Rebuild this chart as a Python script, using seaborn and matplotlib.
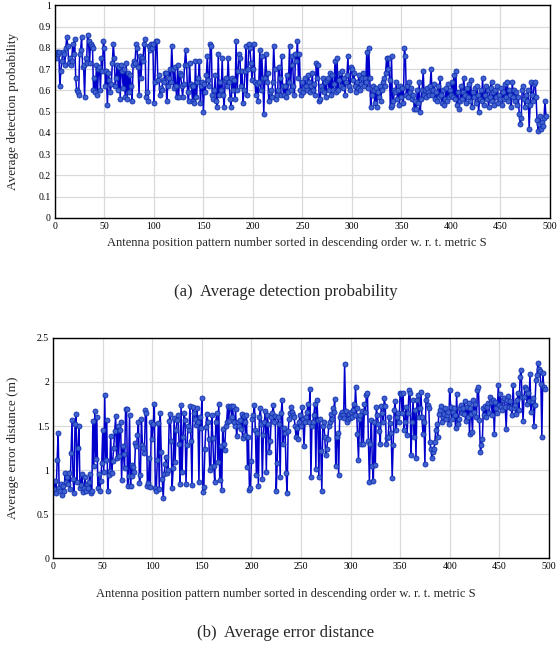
import numpy as np
import pandas as pd
import matplotlib
matplotlib.use("Agg")
import matplotlib.pyplot as plt
import seaborn as sns

# Average detection probability, patterns sorted by metric S
det_prob = [
    0.75, 0.78, 0.77, 0.78, 0.62, 0.69, 0.74, 0.78, 0.77, 0.72,
    0.80, 0.85, 0.81, 0.73, 0.75, 0.72, 0.74, 0.82, 0.77, 0.84,
    0.66, 0.60, 0.59, 0.58, 0.77, 0.79, 0.85, 0.71, 0.72, 0.57,
    0.75, 0.73, 0.86, 0.83, 0.73, 0.82, 0.81, 0.80, 0.60, 0.66,
    0.59, 0.72, 0.58, 0.70, 0.71, 0.60, 0.75, 0.69, 0.83, 0.80,
    0.62, 0.69, 0.53, 0.68, 0.65, 0.59, 0.63, 0.73, 0.82, 0.75,
    0.62, 0.66, 0.72, 0.60, 0.71, 0.56, 0.72, 0.69, 0.61, 0.70,
    0.57, 0.73, 0.56, 0.68, 0.59, 0.67, 0.62, 0.55, 0.72, 0.74,
    0.73, 0.82, 0.80, 0.71, 0.58, 0.76, 0.66, 0.75, 0.74, 0.82,
    0.84, 0.57, 0.59, 0.55, 0.81, 0.79, 0.82, 0.80, 0.82, 0.54,
    0.64, 0.83, 0.83, 0.65, 0.67, 0.58, 0.61, 0.60, 0.65, 0.64,
    0.68, 0.68, 0.55, 0.62, 0.66, 0.70, 0.64, 0.81, 0.70, 0.61,
    0.71, 0.62, 0.57, 0.72, 0.57, 0.68, 0.67, 0.62, 0.57, 0.63,
    0.72, 0.79, 0.72, 0.59, 0.55, 0.73, 0.63, 0.62, 0.55, 0.62,
    0.54, 0.74, 0.57, 0.64, 0.66, 0.74, 0.54, 0.62, 0.64, 0.50,
    0.63, 0.59, 0.67, 0.76, 0.65, 0.62, 0.82, 0.81, 0.58, 0.56,
    0.60, 0.67, 0.55, 0.52, 0.77, 0.58, 0.64, 0.60, 0.75, 0.58,
    0.52, 0.65, 0.66, 0.62, 0.75, 0.64, 0.56, 0.52, 0.66, 0.60,
    0.65, 0.56, 0.83, 0.60, 0.69, 0.77, 0.75, 0.62, 0.69, 0.54,
    0.60, 0.69, 0.81, 0.58, 0.70, 0.82, 0.80, 0.73, 0.65, 0.70,
    0.82, 0.64, 0.58, 0.63, 0.55, 0.64, 0.79, 0.60, 0.76, 0.66,
    0.49, 0.66, 0.77, 0.64, 0.68, 0.55, 0.59, 0.60, 0.57, 0.64,
    0.81, 0.70, 0.56, 0.58, 0.60, 0.71, 0.66, 0.58, 0.76, 0.62,
    0.58, 0.62, 0.57, 0.67, 0.59, 0.64, 0.81, 0.60, 0.72, 0.76,
    0.62, 0.58, 0.77, 0.74, 0.83, 0.66, 0.77, 0.60, 0.58, 0.64,
    0.59, 0.61, 0.66, 0.62, 0.60, 0.67, 0.64, 0.59, 0.62, 0.68,
    0.60, 0.63, 0.58, 0.73, 0.66, 0.72, 0.55, 0.56, 0.62, 0.60,
    0.66, 0.59, 0.64, 0.57, 0.65, 0.66, 0.60, 0.68, 0.58, 0.67,
    0.60, 0.63, 0.74, 0.59, 0.75, 0.60, 0.65, 0.68, 0.62, 0.69,
    0.61, 0.66, 0.58, 0.64, 0.67, 0.76, 0.62, 0.60, 0.71, 0.70,
    0.65, 0.68, 0.62, 0.59, 0.64, 0.61, 0.67, 0.60, 0.63, 0.66,
    0.68, 0.62, 0.66, 0.64, 0.78, 0.61, 0.80, 0.66, 0.52, 0.58,
    0.62, 0.60, 0.54, 0.61, 0.52, 0.59, 0.57, 0.62, 0.55, 0.60,
    0.64, 0.66, 0.62, 0.68, 0.75, 0.70, 0.75, 0.65, 0.52, 0.76,
    0.53, 0.55, 0.60, 0.59, 0.64, 0.56, 0.60, 0.53, 0.62, 0.57,
    0.61, 0.54, 0.80, 0.76, 0.58, 0.62, 0.57, 0.64, 0.59, 0.61,
    0.56, 0.58, 0.51, 0.55, 0.51, 0.60, 0.54, 0.64, 0.50, 0.56,
    0.60, 0.69, 0.58, 0.60, 0.57, 0.61, 0.59, 0.58, 0.62, 0.70,
    0.58, 0.60, 0.63, 0.56, 0.59, 0.55, 0.62, 0.57, 0.66, 0.58,
    0.54, 0.60, 0.53, 0.56, 0.61, 0.55, 0.63, 0.57, 0.60, 0.58,
    0.64, 0.57, 0.67, 0.56, 0.69, 0.53, 0.59, 0.51, 0.55, 0.62,
    0.56, 0.59, 0.66, 0.58, 0.54, 0.61, 0.57, 0.63, 0.55, 0.65,
    0.52, 0.59, 0.57, 0.61, 0.54, 0.62, 0.58, 0.50, 0.56, 0.60,
    0.55, 0.66, 0.53, 0.58, 0.62, 0.56, 0.60, 0.52, 0.57, 0.61,
    0.64, 0.55, 0.59, 0.53, 0.60, 0.57, 0.62, 0.54, 0.58, 0.56,
    0.61, 0.53, 0.59, 0.56, 0.63, 0.57, 0.64, 0.55, 0.60, 0.58,
    0.52, 0.64, 0.57, 0.60, 0.55, 0.59, 0.53, 0.57, 0.49, 0.44,
    0.47, 0.60, 0.62, 0.56, 0.52, 0.58, 0.55, 0.60, 0.42, 0.53,
    0.64, 0.58, 0.55, 0.63, 0.64, 0.57, 0.46, 0.41, 0.44, 0.48,
    0.42, 0.45, 0.43, 0.47, 0.55, 0.48,
]

# Average error distance (m)
err_dist = [
    0.78, 0.88, 0.74, 1.12, 1.42, 0.80, 0.76, 0.84, 0.72, 0.82,
    0.76, 0.97, 0.86, 0.92, 0.84, 0.97, 0.78, 1.19, 1.57, 0.90,
    0.74, 1.52, 1.64, 0.86, 1.25, 1.50, 0.80, 0.83, 0.96, 0.75,
    0.80, 0.92, 0.76, 0.84, 0.80, 0.86, 0.96, 0.74, 0.76, 1.56,
    1.05, 1.67, 1.13, 1.60, 0.80, 0.95, 0.76, 0.88, 1.08, 1.46,
    0.98, 1.85, 1.12, 1.57, 0.76, 0.94, 0.99, 1.39, 0.97, 1.10,
    1.25, 1.44, 1.61, 1.14, 1.50, 1.16, 1.46, 1.55, 0.89, 1.27,
    1.18, 1.02, 1.69, 1.69, 0.82, 0.93, 1.63, 0.82, 1.06, 0.93,
    1.04, 0.98, 1.31, 1.27, 1.40, 1.55, 0.85, 0.94, 1.58, 1.29,
    1.25, 1.19, 1.68, 1.65, 0.82, 0.85, 1.14, 0.81, 1.55, 1.35,
    1.52, 1.75, 0.80, 0.76, 1.11, 1.53, 0.78, 1.65, 1.20, 0.90,
    0.68, 0.96, 1.07, 1.15, 0.97, 1.00, 1.56, 1.64, 1.33, 0.80,
    1.02, 1.59, 1.09, 1.45, 1.57, 1.62, 1.30, 0.84, 1.74, 0.98,
    1.38, 1.65, 1.57, 0.84, 1.29, 1.50, 1.45, 1.73, 1.33, 0.83,
    1.71, 1.65, 1.58, 1.51, 1.70, 1.55, 0.86, 1.60, 1.48, 1.82,
    0.75, 0.81, 1.24, 1.49, 1.64, 1.55, 1.35, 1.00, 1.03, 1.62,
    1.36, 1.05, 0.86, 1.55, 1.65, 1.09, 1.75, 0.89, 1.27, 0.77,
    1.47, 1.30, 1.23, 1.50, 1.55, 1.73, 1.56, 1.71, 1.73, 1.60,
    1.73, 1.55, 1.50, 1.69, 1.39, 1.55, 1.50, 1.57, 1.47, 1.64,
    1.36, 1.61, 1.55, 1.40, 1.62, 1.03, 1.38, 0.77, 0.80, 1.10,
    1.58, 1.62, 1.74, 1.45, 0.94, 1.42, 0.82, 1.60, 1.70, 1.52,
    0.90, 1.40, 1.55, 1.67, 0.98, 1.62, 1.52, 1.20, 1.33, 1.60,
    1.65, 1.74, 1.55, 1.61, 0.76, 1.08, 1.60, 1.52, 0.92, 1.65,
    1.80, 1.30, 1.48, 1.42, 0.97, 0.74, 1.44, 1.58, 1.65, 1.71,
    1.66, 1.63, 1.60, 1.50, 1.37, 1.48, 1.35, 1.55, 1.62, 1.50,
    1.71, 1.58, 1.27, 1.55, 1.60, 1.66, 1.75, 1.55, 1.92, 0.92,
    1.50, 1.55, 1.63, 1.75, 1.01, 1.80, 1.57, 0.92, 1.58, 1.22,
    0.76, 1.50, 1.55, 1.37, 1.17, 1.24, 1.35, 1.50, 1.55, 1.64,
    1.58, 1.70, 1.66, 1.81, 1.05, 1.37, 1.42, 0.94, 1.60, 1.64,
    1.66, 1.62, 1.59, 2.20, 1.67, 1.55, 1.58, 1.64, 1.59, 1.66,
    1.60, 1.68, 1.75, 1.62, 1.94, 1.70, 1.41, 1.11, 1.58, 1.62,
    1.30, 1.67, 1.30, 1.75, 1.66, 1.85, 1.88, 1.33, 0.87, 1.30,
    1.57, 1.05, 0.88, 1.55, 1.06, 1.71, 1.62, 1.52, 1.44, 1.30,
    1.73, 1.65, 1.55, 1.82, 1.73, 1.30, 1.36, 1.38, 1.60, 1.53,
    1.42, 0.91, 1.28, 1.68, 1.78, 1.45, 1.60, 1.65, 1.55, 1.88,
    1.86, 1.65, 1.88, 1.45, 1.55, 1.72, 1.40, 1.65, 1.91, 1.88,
    1.17, 1.55, 1.80, 1.38, 1.68, 1.14, 1.79, 1.85, 1.60, 1.70,
    1.89, 1.60, 1.41, 1.55, 1.07, 1.79, 1.85, 1.74, 1.70, 1.32,
    1.24, 1.14, 1.20, 1.24, 1.32, 1.46, 1.52, 1.37, 1.64, 1.68,
    1.73, 1.54, 1.60, 1.64, 1.70, 1.58, 1.62, 1.66, 1.52, 1.91,
    1.72, 1.58, 1.66, 1.70, 1.63, 1.48, 1.86, 1.52, 1.58, 1.70,
    1.74, 1.65, 1.70, 1.64, 1.78, 1.56, 1.72, 1.60, 1.76, 1.41,
    1.70, 1.64, 1.43, 1.80, 1.66, 1.75, 1.60, 1.91, 1.94, 1.57,
    1.20, 1.28, 1.35, 1.70, 1.62, 1.73, 1.60, 1.72, 1.76, 1.65,
    1.83, 1.77, 1.62, 1.80, 1.41, 1.77, 1.70, 1.65, 1.96, 1.74,
    1.86, 1.72, 1.68, 1.79, 1.82, 1.72, 1.47, 1.80, 1.84, 1.72,
    1.78, 1.70, 1.62, 1.96, 1.70, 1.74, 1.64, 1.80, 1.87, 1.68,
    2.06, 2.14, 1.83, 1.56, 1.83, 1.94, 1.92, 1.75, 1.88, 1.78,
    2.09, 1.66, 1.78, 1.82, 1.50, 1.74, 2.02, 2.08, 2.21, 2.15,
    2.12, 1.98, 1.38, 2.10, 1.94, 1.92,
]

x_ticks = [0, 50, 100, 150, 200, 250, 300, 350, 400, 450, 500]
y_ticks_a = [0, 0.1, 0.2, 0.3, 0.4, 0.5, 0.6, 0.7, 0.8, 0.9, 1]
y_labels_a = ["0", "0.1", "0.2", "0.3", "0.4", "0.5", "0.6", "0.7", "0.8", "0.9", "1"]
y_ticks_b = [0, 0.5, 1, 1.5, 2, 2.5]
y_labels_b = ["0", "0.5", "1", "1.5", "2", "2.5"]

xlabel = "Antenna position pattern number sorted in descending order w. r. t. metric S"
ylabel_a = "Average detection probability"
ylabel_b = "Average error distance (m)"
caption_a = "(a)  Average detection probability"
caption_b = "(b)  Average error distance"

df_a = pd.DataFrame({"pattern": np.arange(1, len(det_prob) + 1), "value": det_prob})
df_b = pd.DataFrame({"pattern": np.arange(1, len(err_dist) + 1), "value": err_dist})

sns.set_theme(style="whitegrid")
plt.rcParams["font.family"] = ["Liberation Serif", "DejaVu Serif"]

fig = plt.figure(figsize=(5.6, 6.56), dpi=100)
ax_a = fig.add_axes([0.098, 0.668, 0.884, 0.324])
ax_b = fig.add_axes([0.095, 0.149, 0.885, 0.336])

line_col = "#0000CC"
face_col = "#4060D0"

for ax, df, yt, yl, ylab, ymax, lx in [
    (ax_a, df_a, y_ticks_a, y_labels_a, ylabel_a, 1.0, -0.072),
    (ax_b, df_b, y_ticks_b, y_labels_b, ylabel_b, 2.5, -0.068),
]:
    sns.lineplot(data=df, x="pattern", y="value", ax=ax, color=line_col,
                 linewidth=1.1, marker="o", markersize=3.6,
                 markerfacecolor=face_col, markeredgecolor="#1030B0",
                 markeredgewidth=0.6)
    ax.set_xlim(0, 500)
    ax.set_ylim(0, ymax)
    ax.set_xticks(x_ticks)
    ax.set_xticklabels([str(t) for t in x_ticks], fontsize=7)
    ax.set_yticks(yt)
    ax.set_yticklabels(yl, fontsize=7)
    ax.set_xlabel("")
    ax.set_ylabel(ylab, fontsize=9.5)
    ax.yaxis.set_label_coords(lx, 0.5)
    ax.grid(True, color="#D9D9D9", linewidth=0.9)
    ax.set_facecolor("white")
    for s in ax.spines.values():
        s.set_visible(True)
        s.set_color("black")
        s.set_linewidth(1.0)
    ax.tick_params(axis="both", length=0, pad=3, colors="black")

fig.text(0.53, 1 - 243 / 656, xlabel, ha="center", va="center", fontsize=9)
fig.text(0.51, 1 - 292 / 656, caption_a, ha="center", va="center", fontsize=12)
fig.text(0.51, 1 - 594 / 656, xlabel, ha="center", va="center", fontsize=9)
fig.text(0.51, 1 - 633 / 656, caption_b, ha="center", va="center", fontsize=12)

fig.savefig("out.png", dpi=100, facecolor="white")
